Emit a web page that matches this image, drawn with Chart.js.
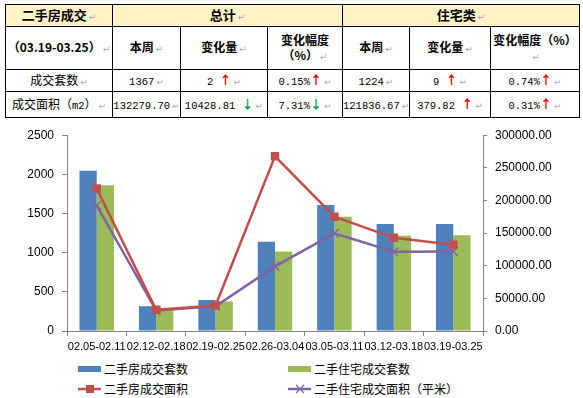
<!DOCTYPE html>
<html>
<head>
<meta charset="utf-8">
<script src="https://cdn.jsdelivr.net/npm/chart.js@4.4.0/dist/chart.umd.min.js"></script>
<style>
  body { margin: 0; width: 583px; height: 398px; background: #fff; position: relative; overflow: hidden;
         font-family: "Noto Sans CJK SC", sans-serif; color: #000; }
  table { position: absolute; left: 5px; top: 4px; width: 574px; border-collapse: collapse; table-layout: fixed; }
  td { border: 1px solid #000; text-align: center; font-size: 12px; padding: 0; line-height: 15px; white-space: nowrap; }
  tr.r1 td { background: #fff4c8; font-weight: bold; font-size: 13px; height: 21px; }
  tr.r2 td { font-weight: bold; height: 42px; white-space: normal; }
  tr.r3 td { height: 21px; }
  tr.r4 td { height: 25px; }
  .n { font-family: "Liberation Mono", monospace; font-size: 10.5px; }
  .pm { color: #aaa; font-size: 9px; font-weight: normal; margin-left: 2px; font-family: "DejaVu Sans", sans-serif; }
  .up { color: #e00000; font-weight: bold; }
  .dn { color: #00a050; font-weight: bold; }
  #wrap { position: absolute; left: 0; top: 120px; width: 583px; height: 232px; }
  .lg { position: absolute; font-size: 12px; line-height: 14px; display: flex; align-items: center; }
  .lg svg { margin-right: 3px; }
</style>
</head>
<body>
<table>
  <colgroup>
    <col style="width:107px"><col style="width:68px"><col style="width:87px"><col style="width:75px">
    <col style="width:67px"><col style="width:81px"><col style="width:89px">
  </colgroup>
  <tr class="r1">
    <td>二手房成交<span class="pm">↵</span></td>
    <td colspan="3">总计<span class="pm">↵</span></td>
    <td colspan="3">住宅类<span class="pm">↵</span></td>
  </tr>
  <tr class="r2">
    <td>（03.19-03.25）<span class="pm">↵</span></td>
    <td>本周<span class="pm">↵</span></td>
    <td>变化量<span class="pm">↵</span></td>
    <td>变化幅度<br>（%）<span class="pm">↵</span></td>
    <td>本周<span class="pm">↵</span></td>
    <td>变化量<span class="pm">↵</span></td>
    <td>变化幅度（%）<span class="pm">↵</span></td>
  </tr>
  <tr class="r3">
    <td>成交套数<span class="pm">↵</span></td>
    <td><span class="n">1367</span><span class="pm">↵</span></td>
    <td><span class="n">2 </span><span class="up">↑</span><span class="pm">↵</span></td>
    <td><span class="n">0.15%</span><span class="up">↑</span><span class="pm">↵</span></td>
    <td><span class="n">1224</span><span class="pm">↵</span></td>
    <td><span class="n">9 </span><span class="up">↑</span><span class="pm">↵</span></td>
    <td><span class="n">0.74%</span><span class="up">↑</span><span class="pm">↵</span></td>
  </tr>
  <tr class="r4">
    <td>成交面积（<span class="n">m2</span>）<span class="pm">↵</span></td>
    <td><span class="n">132279.70</span><span class="pm">↵</span></td>
    <td><span class="n">10428.81 </span><span class="dn">↓</span><span class="pm">↵</span></td>
    <td><span class="n">7.31%</span><span class="dn">↓</span><span class="pm">↵</span></td>
    <td><span class="n">121836.67</span><span class="pm">↵</span></td>
    <td><span class="n">379.82 </span><span class="up">↑</span><span class="pm">↵</span></td>
    <td><span class="n">0.31%</span><span class="up">↑</span><span class="pm">↵</span></td>
  </tr>
</table>

<div id="wrap"><canvas id="chart"></canvas></div>

<div class="lg" style="left:78px;top:362px">
  <svg width="23" height="8"><rect x="0" y="1" width="23" height="6" fill="#4f81bd"/></svg>二手房成交套数
</div>
<div class="lg" style="left:288px;top:362px">
  <svg width="23" height="8"><rect x="0" y="1" width="23" height="6" fill="#9bbb59"/></svg>二手住宅成交套数
</div>
<div class="lg" style="left:78px;top:382px">
  <svg width="23" height="10"><line x1="0" y1="5" x2="23" y2="5" stroke="#c0504d" stroke-width="2.5"/><rect x="8" y="1" width="8" height="8" fill="#c0504d"/></svg>二手房成交面积
</div>
<div class="lg" style="left:288px;top:382px">
  <svg width="23" height="10"><line x1="0" y1="5" x2="23" y2="5" stroke="#8064a2" stroke-width="2.5"/><path d="M8 1 L16 9 M16 1 L8 9" stroke="#8064a2" stroke-width="1.2"/></svg>二手住宅成交面积（平米）
</div>

<script>
const weeks = ['02.05-02.11', '02.12-02.18', '02.19-02.25', '02.26-03.04', '03.05-03.11', '03.12-03.18', '03.19-03.25'];
const allUnits = [2047, 317, 397, 1138, 1608, 1365, 1367];
const homeUnits = [1861, 290, 377, 1015, 1459, 1215, 1224];
const allArea = [218200, 32400, 39100, 267600, 175100, 142708.51, 132279.70];
const homeArea = [192300, 31500, 38000, 99000, 149700, 121456.85, 121836.67];

const AXIS = '#868686';
const tickFont = { family: 'Liberation Sans', size: 12 };

new Chart(document.getElementById('chart'), {
  type: 'bar',
  data: {
    labels: weeks,
    datasets: [
      { label: '二手房成交面积', type: 'line', data: allArea, yAxisID: 'y1', order: 0,
        borderColor: '#c0504d', backgroundColor: '#c0504d', borderWidth: 2.5, tension: 0,
        pointStyle: 'rect', pointRadius: 6, pointBorderWidth: 0 },
      { label: '二手住宅成交面积（平米）', type: 'line', data: homeArea, yAxisID: 'y1', order: 0,
        borderColor: '#8064a2', backgroundColor: '#8064a2', borderWidth: 2.5, tension: 0,
        pointStyle: 'crossRot', pointRadius: 6, pointBorderWidth: 1.5 },
      { label: '二手房成交套数', data: allUnits, yAxisID: 'y', order: 1,
        backgroundColor: '#4f81bd', barPercentage: 1, categoryPercentage: 0.58 },
      { label: '二手住宅成交套数', data: homeUnits, yAxisID: 'y', order: 1,
        backgroundColor: '#9bbb59', barPercentage: 1, categoryPercentage: 0.58 },
    ],
  },
  options: {
    responsive: true,
    maintainAspectRatio: false,
    animation: false,
    layout: { padding: { top: 10, left: 0, right: 0, bottom: 0 } },
    plugins: { legend: { display: false }, tooltip: { enabled: false } },
    scales: {
      x: {
        grid: { drawOnChartArea: false, color: AXIS, tickLength: 5 },
        border: { color: AXIS },
        ticks: { color: '#000', font: { family: 'Liberation Sans', size: 11 }, autoSkip: false, maxRotation: 0, padding: 4 },
        afterFit: (s) => { s.height = 21; },
      },
      y: {
        position: 'left', min: 0, max: 2500,
        grid: { drawOnChartArea: false, color: AXIS, tickLength: 5 },
        border: { color: AXIS },
        ticks: { stepSize: 500, color: '#000', font: tickFont, padding: 8, callback: (v) => String(v) },
        afterFit: (s) => { s.width = 67; },
      },
      y1: {
        position: 'right', min: 0, max: 300000,
        grid: { drawOnChartArea: false, color: AXIS, tickLength: 4 },
        border: { color: AXIS },
        ticks: { stepSize: 50000, color: '#000', font: tickFont, padding: 8, callback: (v) => v.toFixed(2) },
        afterFit: (s) => { s.width = 100; },
      },
    },
  },
});
</script>
</body>
</html>
